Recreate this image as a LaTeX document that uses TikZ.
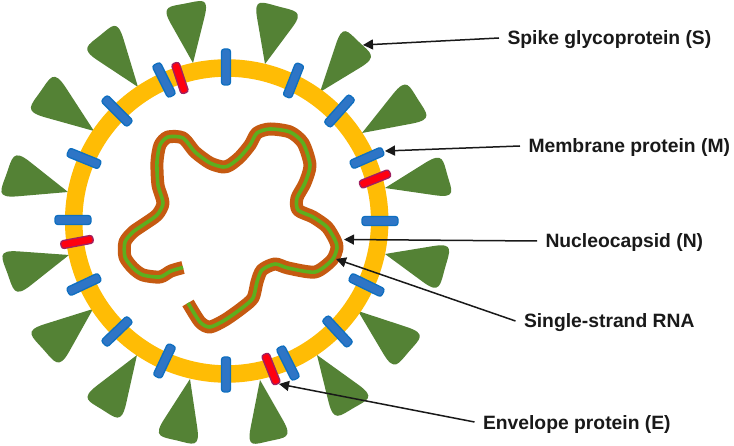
\documentclass[tikz,border=0pt]{standalone}
\usepackage{fontspec}
\setmainfont{Liberation Sans}
\usetikzlibrary{calc,arrows.meta}
\definecolor{spikegreen}{HTML}{548235}
\definecolor{ringgold}{HTML}{FFBC05}
\definecolor{barblue}{HTML}{2E75C6}
\definecolor{barline}{HTML}{0F6FC0}
\definecolor{redfill}{HTML}{FF0010}
\definecolor{redline}{HTML}{A02060}
\definecolor{capsid}{HTML}{C55A11}
\definecolor{rnagreen}{HTML}{5DAF1E}
\newcommand\spikeblob[6]{%
  \coordinate (T) at (#1,#2);
  \coordinate (A) at (#3,#4);
  \coordinate (B) at (#5,#6);
  \coordinate (M) at ($(A)!.5!(B)$);
  \coordinate (Q) at ($(T)!1.0!(M)$);
  \fill[spikegreen] (T) .. controls ($(T)!.35!(A)$) and ($(T)!.6!(A)$) .. ($(T)!.72!(A)$) .. controls ($(T)!1.04!(A)$) and ($(Q)+.34*(A)-.34*(B)$) .. (Q)
    .. controls ($(Q)-.34*(A)+.34*(B)$) and ($(T)!1.04!(B)$) .. ($(T)!.72!(B)$) -- cycle;
}
\newcommand\pbar[7]{%
  \coordinate (a) at (#4,#5);
  \coordinate (b) at (#6,#7);
  \draw[#1,fill=#2,line width=1.3pt,rounded corners=2.8pt]
    ($(a)!#3pt!90:(b)$) -- ($(a)!#3pt!-90:(b)$) -- ($(b)!#3pt!90:(a)$) -- ($(b)!#3pt!-90:(a)$) -- cycle;
}
\newcommand\bluebar[4]{\pbar{barline}{barblue}{4.5}{#1}{#2}{#3}{#4}}
\newcommand\redbar[4]{\pbar{redline}{redfill}{4}{#1}{#2}{#3}{#4}}
\tikzset{
  lab/.style={anchor=west,inner sep=0pt,outer xsep=8.5pt,outer ysep=0pt,text height=14pt,text depth=0pt,
    font=\fontsize{19.3}{22}\selectfont\bfseries,text=black!90},
  ptr/.style={draw=black!90,line width=1.5pt,-{Triangle[length=10pt,width=10pt]}},
  rna/.style={line join=round,line cap=butt}
}
\begin{document}
\begin{tikzpicture}[x=1pt,y=-1pt]
\useasboundingbox (0,0) rectangle (734,446);
\fill[white] (0,0) rectangle (734,446);
% spikes
\spikeblob{68}{192}{15}{150}{-2}{198}
\spikeblob{94}{131}{55}{71}{26}{112}
\spikeblob{138}{87}{118}{21}{82}{50}
\spikeblob{193}{63}{209}{-1}{162}{8}
\spikeblob{265}{64}{254}{0}{303}{13}
\spikeblob{320}{92}{342}{26}{376}{58}
\spikeblob{362}{133}{405}{79}{431}{120}
\spikeblob{385}{188}{441}{153}{454}{198}
\spikeblob{385}{254}{452}{243}{438}{293}
\spikeblob{358}{311}{425}{333}{393}{370}
\spikeblob{317}{355}{374}{396}{333}{420}
\spikeblob{260}{380}{292}{436}{247}{446}
\spikeblob{190}{379}{154}{435}{200}{446}
\spikeblob{137}{355}{82}{397}{122}{422}
\spikeblob{93}{309}{26}{330}{60}{368}
\spikeblob{69}{255}{-1}{250}{16}{297}
% envelope ring
\draw[ringgold,line width=17.5pt] (226.7,221) circle[radius=153pt];
% membrane proteins
\bluebar{226}{49}{226}{85}
\bluebar{300}{64}{287}{97}
\bluebar{352}{97}{327}{125}
\bluebar{383}{151}{351}{165}
\bluebar{398}{221}{362}{221}
\bluebar{383}{293}{350}{277}
\bluebar{350}{345}{325}{318}
\bluebar{296}{379}{280}{347}
\bluebar{226}{392}{226}{357}
\bluebar{157}{377}{172}{345}
\bluebar{104}{344}{130}{319}
\bluebar{68}{292}{100}{277}
\bluebar{55}{220}{91}{220}
\bluebar{68}{152}{100}{165}
\bluebar{104}{98}{130}{124}
\bluebar{156}{64}{172}{96}
% envelope proteins
\redbar{175}{63}{185}{93}
\redbar{390}{173}{360}{185}
\redbar{93}{239}{61}{245}
\redbar{265}{354}{277}{384}
% nucleocapsid and RNA
\def\rnapath{plot[smooth,tension=.45] coordinates {(183,267.5) (171,271) (160,277) (143,275) (133,268) (125,257) (125,242) (133,232) (143,225) (157,215) (163,203) (158,185) (157,162) (160,145) (168,137) (183,138) (195,152) (210,163) (223,167) (230,165) (240,157) (250,145) (257,133) (270,129) (290,132) (303,143) (310,165) (305,183) (297,198) (298,210) (313,217) (327,227) (335,240) (337,248) (332,260) (315,272) (288,268) (275,264) (262,270) (257,282) (253,298) (242,308) (225,320) (210,327) (200,322) (188,303)}}
\draw[capsid,line width=13pt,rna] \rnapath;
\draw[rnagreen,line width=3.6pt,rna] \rnapath;
% labels and pointers
\coordinate (tipS) at (363,45);
\coordinate (tipM) at (385,151);
\coordinate (tipN) at (344,239.5);
\coordinate (tipR) at (336,259);
\coordinate (tipE) at (279,384);
\node[lab] (labS) at (499,38) {Spike glycoprotein (S)};
\node[lab] (labM) at (520,146) {Membrane protein (M)};
\node[lab] (labN) at (537,241) {Nucleocapsid (N)};
\node[lab] (labR) at (515.5,321) {Single-strand RNA};
\node[lab] (labE) at (474.5,422) {Envelope protein (E)};
\draw[ptr] (labS.west) -- (tipS);
\draw[ptr] (labM.west) -- (tipM);
\draw[ptr] (labN.west) -- (tipN);
\draw[ptr] (labR.west) -- (tipR);
\draw[ptr] (labE.west) -- (tipE);
\end{tikzpicture}
\end{document}
